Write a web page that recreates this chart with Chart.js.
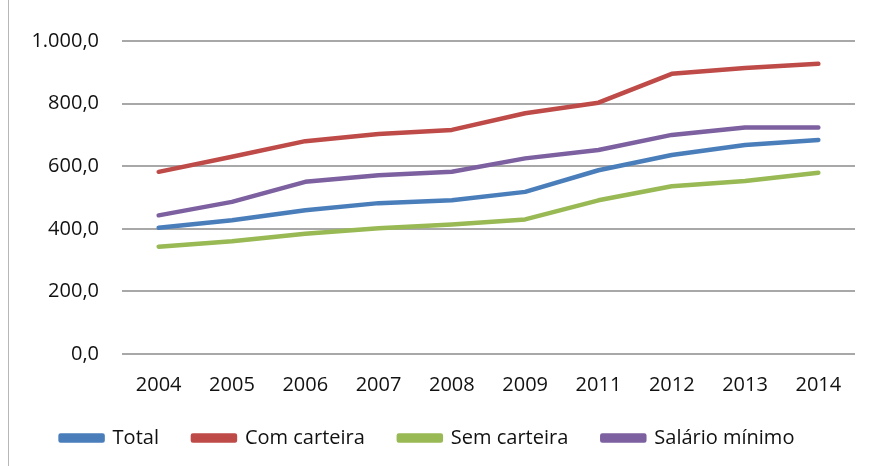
<!DOCTYPE html>
<html>
<head>
<meta charset="utf-8">
<script src="https://cdn.jsdelivr.net/npm/chart.js@4"></script>
<style>
  html, body { margin: 0; padding: 0; background: #fff; }
  #wrap { position: relative; width: 870px; height: 466px; }
  #edge { position: absolute; left: 8px; top: 0; width: 1px; height: 466px; background: #b8b8b8; }
</style>
</head>
<body>
<div id="wrap">
  <div id="edge"></div>
  <canvas id="chart" width="870" height="466"></canvas>
</div>
<script>
// anos (note: 2010 não aparece no original)
const anos = ['2004', '2005', '2006', '2007', '2008', '2009', '2011', '2012', '2013', '2014'];

const total = [403, 427, 459, 482, 491, 518, 587, 636, 668, 684];
const comCarteira = [582, 630, 680, 703, 716, 769, 803, 895, 914, 927];
const semCarteira = [343, 360, 384, 402, 414, 430, 491, 536, 553, 579];
const salarioMinimo = [443, 486, 550, 571, 582, 625, 652, 700, 724, 724];

const yTicks = [0, 200, 400, 600, 800, 1000];

const fontFamily = '"Open Sans", "Liberation Sans", sans-serif';

// 1000 -> "1.000,0"
const formatBR = (v) => {
    const parts = Number(v).toFixed(1).split('.');
    parts[0] = parts[0].replace(/\B(?=(\d{3})+(?!\d))/g, '.');
    return parts.join(',');
};

const serie = (label, data, color) => ({
    label: label,
    data: data,
    borderColor: color,
    backgroundColor: color,
    borderWidth: 4.5,
    pointRadius: 0,
    tension: 0,
    borderCapStyle: 'round',
    borderJoinStyle: 'round'
});

new Chart(document.getElementById('chart'), {
    type: 'line',
    data: {
        labels: anos,
        datasets: [
            serie('Total', total, '#4a7ebb'),
            serie('Com carteira', comCarteira, '#be4b48'),
            serie('Sem carteira', semCarteira, '#98b954'),
            serie('Salário mínimo', salarioMinimo, '#7d60a0')
        ]
    },
    options: {
        responsive: false,
        animation: false,
        layout: { padding: { top: 41, right: 15, left: 0, bottom: 8 } },
        scales: {
            x: {
                offset: true,
                grid: { display: false, drawTicks: false },
                border: { display: false },
                ticks: { color: '#111', font: { family: fontFamily, size: 20 }, padding: 19, maxRotation: 0 },
                afterFit: (scale) => { scale.height = 40; }
            },
            y: {
                min: 0,
                max: 1000,
                afterBuildTicks: (scale) => { scale.ticks = yTicks.map(v => ({ value: v })); },
                grid: { color: '#a8a8a8', lineWidth: 2, drawTicks: false },
                border: { display: false },
                ticks: {
                    color: '#111',
                    font: { family: fontFamily, size: 20 },
                    padding: 23,
                    callback: (v) => formatBR(v)
                },
                afterFit: (scale) => { scale.width = 122; }
            }
        },
        plugins: {
            legend: {
                position: 'bottom',
                labels: {
                    boxWidth: 42,
                    boxHeight: 5,
                    padding: 34,
                    color: '#111',
                    font: { family: fontFamily, size: 20 }
                }
            },
            tooltip: { enabled: false }
        }
    }
});
</script>
</body>
</html>
